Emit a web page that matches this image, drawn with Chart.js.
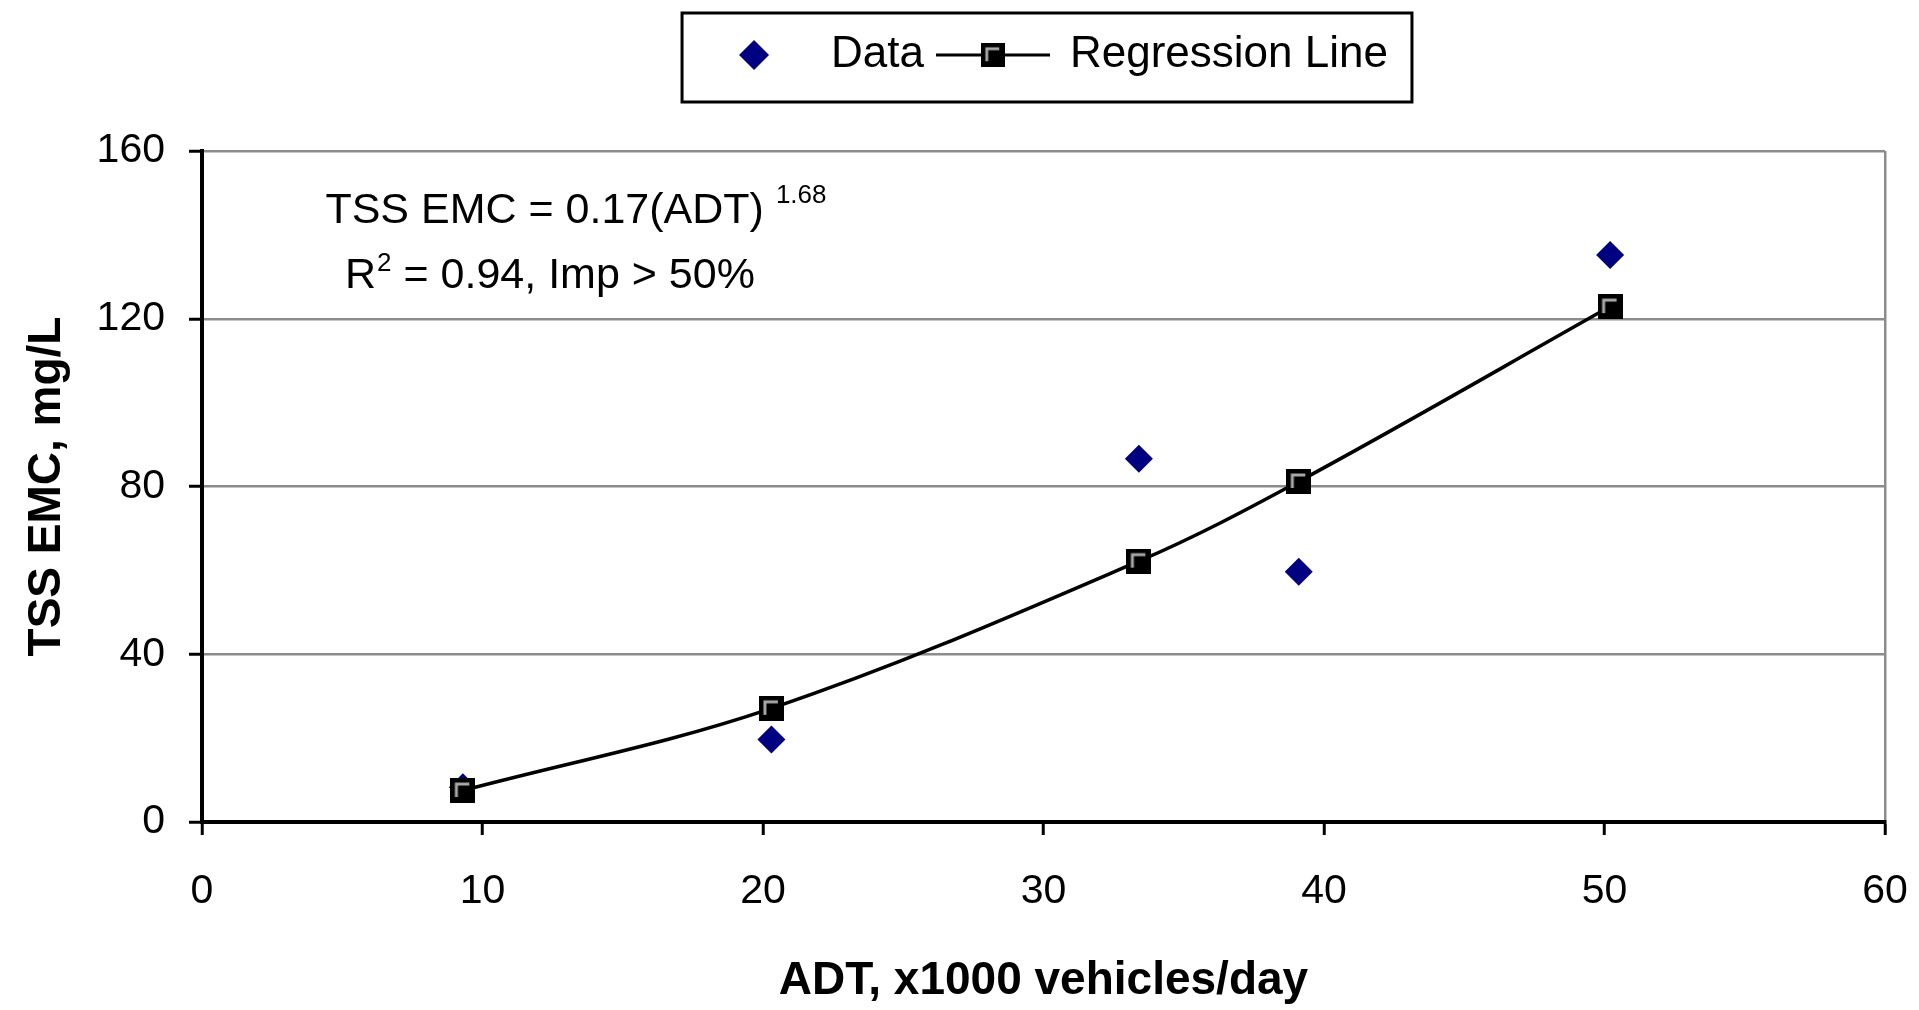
<!DOCTYPE html>
<html>
<head>
<meta charset="utf-8">
<title>TSS EMC vs ADT</title>
<script src="https://cdn.jsdelivr.net/npm/chart.js@4.4.0/dist/chart.umd.min.js"></script>
<style>
  html, body { margin: 0; padding: 0; background: #fff; }
  #wrap { width: 1919px; height: 1010px; }
</style>
</head>
<body>
<div id="wrap"><canvas id="myChart"></canvas></div>
<script>
// measured points
var adtData = [9.3, 20.3, 33.4, 39.1, 50.2];
var tssData = [8.3, 19.7, 86.6, 59.7, 135.2];
// power fit evaluated at the same ADT values
var adtFit = [9.3, 20.3, 33.4, 39.1, 50.2];
var tssFit = [7.5, 27.1, 62.2, 81.2, 122.9];

var xTicks = [0, 10, 20, 30, 40, 50, 60];
var yTicks = [0, 40, 80, 120, 160];

var seriesNames = ['Data', 'Regression Line'];
var eqLines = [
  { text: 'TSS EMC = 0.17(ADT)', sup: '1.68', after: '', supGap: 12, x: 4.4, y: 145.7 },
  { text: 'R', sup: '2', after: ' = 0.94, Imp > 50%', supGap: 1, x: 5.1, y: 130.2 }
];

var FONT = '"Liberation Sans", Arial, sans-serif';
var NAVY = '#000080';
var GRID = '#8c8c8c';

function toPoints(xs, ys) {
  return xs.map(function (x, i) { return { x: x, y: ys[i] }; });
}

// black square with a light inner edge, used on the regression line
function squareMarker() {
  var c = document.createElement('canvas');
  c.width = 25; c.height = 25;
  var g = c.getContext('2d');
  g.fillStyle = '#000';
  g.fillRect(0, 0, 25, 25);
  g.strokeStyle = '#a8a8a8';
  g.lineWidth = 3;
  g.beginPath();
  g.moveTo(6, 19); g.lineTo(6, 6); g.lineTo(19, 6);
  g.stroke();
  return c;
}

function diamondKey() {
  var c = document.createElement('canvas');
  c.width = 110; c.height = 32;
  var g = c.getContext('2d');
  g.fillStyle = NAVY;
  g.beginPath();
  g.moveTo(55, 1); g.lineTo(70, 16); g.lineTo(55, 31); g.lineTo(40, 16);
  g.closePath();
  g.fill();
  return c;
}

function lineKey() {
  var c = document.createElement('canvas');
  c.width = 114; c.height = 30;
  var g = c.getContext('2d');
  g.strokeStyle = '#000';
  g.lineWidth = 3;
  g.beginPath(); g.moveTo(0, 15); g.lineTo(114, 15); g.stroke();
  g.drawImage(squareMarker(), 45, 3, 24, 24);
  return c;
}

var square = squareMarker();

// room between the legend and the plot for the equation
var legendSpace = {
  id: 'legendSpace',
  beforeInit: function (chart) {
    var fit = chart.legend.fit;
    chart.legend.fit = function () {
      fit.bind(chart.legend)();
      this.height += 64;
    };
  }
};

// frame round the legend items
var legendFrame = {
  id: 'legendFrame',
  afterDraw: function (chart) {
    var boxes = chart.legend.legendHitBoxes;
    if (!boxes || !boxes.length) return;
    var first = boxes[0], last = boxes[boxes.length - 1];
    var left = first.left - 17;
    var right = last.left + last.width + 24;
    var mid = first.top + first.height / 2;
    var ctx = chart.ctx;
    ctx.save();
    ctx.strokeStyle = '#000';
    ctx.lineWidth = 3;
    ctx.strokeRect(left, mid - 42, right - left, 89);
    ctx.restore();
  }
};

var equationText = {
  id: 'equationText',
  afterDatasetsDraw: function (chart) {
    var ctx = chart.ctx, xs = chart.scales.x, ys = chart.scales.y;
    ctx.save();
    ctx.fillStyle = '#000';
    ctx.textAlign = 'left';
    ctx.textBaseline = 'middle';
    eqLines.forEach(function (ln, i) {
      var px = xs.getPixelForValue(ln.x);
      var py = ys.getPixelForValue(ln.y);
      ctx.font = '43px ' + FONT;
      ctx.fillText(ln.text, px, py);
      px += ctx.measureText(ln.text).width + ln.supGap;
      ctx.font = '26px ' + FONT;
      ctx.fillText(ln.sup, px, py - (i === 0 ? 15 : 12));
      px += ctx.measureText(ln.sup).width;
      if (ln.after) {
        ctx.font = '43px ' + FONT;
        ctx.fillText(ln.after, px, py);
      }
    });
    ctx.restore();
  }
};

const ctx = document.getElementById('myChart').getContext('2d');
const myChart = new Chart(ctx, {
  type: 'scatter',
  data: {
    datasets: [{
      label: seriesNames[1],
      data: toPoints(adtFit, tssFit),
      showLine: true,
      tension: 0.35,
      borderColor: '#000',
      borderWidth: 3.5,
      pointStyle: square,
      pointRadius: 12
    }, {
      label: seriesNames[0],
      data: toPoints(adtData, tssData),
      pointStyle: 'rectRot',
      pointRadius: 14,
      backgroundColor: NAVY,
      borderColor: NAVY,
      borderWidth: 0
    }]
  },
  options: {
    responsive: true,
    maintainAspectRatio: false,
    animation: false,
    layout: { padding: { top: 19, right: 34, bottom: 0, left: 0 } },
    plugins: {
      tooltip: { enabled: false },
      legend: {
        position: 'top',
        fullSize: false,
        labels: {
          usePointStyle: true,
          pointStyleWidth: 110,
          padding: 14,
          color: '#000',
          font: { family: FONT, size: 44 },
          generateLabels: function () {
            return [
              { text: seriesNames[0], pointStyle: diamondKey(), datasetIndex: 1, hidden: false, lineWidth: 0 },
              { text: seriesNames[1], pointStyle: lineKey(), datasetIndex: 0, hidden: false, lineWidth: 0 }
            ];
          }
        }
      }
    },
    scales: {
      x: {
        type: 'linear',
        min: xTicks[0],
        max: xTicks[xTicks.length - 1],
        afterBuildTicks: function (scale) {
          scale.ticks = xTicks.map(function (v) { return { value: v }; });
        },
        afterFit: function (scale) {
          scale.height = 188;
          // the "60" label fits inside the right padding
          scale.paddingRight = 25;
          scale.paddingLeft = 0;
        },
        border: { color: '#000', width: 4 },
        grid: {
          color: function (c) { return c.tick && c.tick.value === 60 ? GRID : 'rgba(0,0,0,0)'; },
          lineWidth: 2.5,
          tickLength: 13,
          tickColor: '#000',
          tickWidth: 3
        },
        ticks: {
          color: '#000',
          padding: 32,
          maxRotation: 0,
          font: { family: FONT, size: 41 }
        },
        title: {
          display: true,
          text: 'ADT, x1000 vehicles/day',
          color: '#000',
          padding: { top: 0, bottom: 1 },
          font: { family: FONT, size: 46, weight: 'bold' }
        }
      },
      y: {
        type: 'linear',
        min: yTicks[0],
        max: yTicks[yTicks.length - 1],
        afterBuildTicks: function (scale) {
          scale.ticks = yTicks.map(function (v) { return { value: v }; });
        },
        afterFit: function (scale) { scale.width = 202; },
        border: { color: '#000', width: 4 },
        grid: {
          color: GRID,
          lineWidth: 2.5,
          tickLength: 13,
          tickColor: '#000',
          tickWidth: 3
        },
        ticks: {
          color: '#000',
          padding: 24,
          font: { family: FONT, size: 41 }
        },
        title: {
          display: true,
          text: 'TSS EMC, mg/L',
          color: '#000',
          padding: { top: 20, bottom: 0 },
          font: { family: FONT, size: 46, weight: 'bold' }
        }
      }
    }
  },
  plugins: [legendSpace, legendFrame, equationText]
});
</script>
</body>
</html>
